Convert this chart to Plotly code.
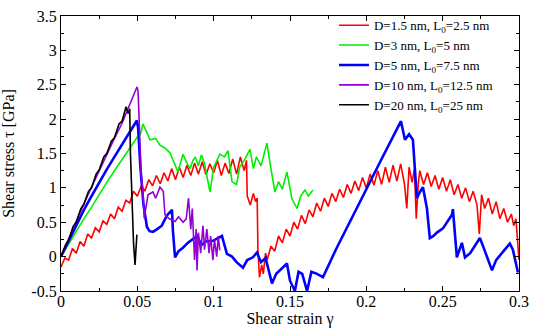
import plotly.graph_objects as go

# ---------------- data ----------------
red_x = [0.0, 0.0025, 0.005, 0.0075, 0.01, 0.0125, 0.015, 0.0175, 0.02, 0.0225,
         0.025, 0.0275, 0.03, 0.0325, 0.035, 0.0375, 0.04, 0.0425, 0.045, 0.0475,
         0.05, 0.0525, 0.055, 0.0575, 0.06, 0.0625, 0.065, 0.0675, 0.07, 0.0725,
         0.075, 0.0775, 0.08, 0.0825, 0.085, 0.0875, 0.09, 0.0925, 0.095, 0.0975,
         0.1, 0.1025, 0.105, 0.1075, 0.11, 0.1125, 0.115, 0.1175, 0.12, 0.1215,
         0.122, 0.124, 0.126, 0.1275, 0.1285, 0.129, 0.13, 0.1315, 0.1325, 0.134,
         0.135, 0.1375, 0.14, 0.1425, 0.145, 0.1475, 0.15, 0.1525, 0.155, 0.1575,
         0.16, 0.1625, 0.165, 0.1675, 0.17, 0.1725, 0.175, 0.1775, 0.18, 0.1825,
         0.185, 0.1875, 0.19, 0.1925, 0.195, 0.1975, 0.2, 0.2025, 0.205, 0.2075,
         0.21, 0.2125, 0.215, 0.2175, 0.22, 0.2225, 0.225, 0.2265, 0.228, 0.23,
         0.2315, 0.2327, 0.234, 0.235, 0.2375, 0.24, 0.2425, 0.245, 0.2475, 0.25,
         0.2525, 0.255, 0.2575, 0.26, 0.2625, 0.265, 0.2675, 0.27, 0.2725, 0.274,
         0.2755, 0.2775, 0.28, 0.2825, 0.285, 0.2875, 0.29, 0.2925, 0.295, 0.2965,
         0.298, 0.299, 0.3]
red_y = [-0.15, -0.02, -0.05, 0.12, 0.05, 0.22, 0.15, 0.33, 0.27, 0.42,
         0.36, 0.52, 0.47, 0.62, 0.55, 0.72, 0.66, 0.82, 0.78, 0.95,
         0.88, 1.02, 0.96, 1.12, 1.03, 1.18, 1.06, 1.22, 1.10, 1.28,
         1.12, 1.30, 1.15, 1.33, 1.18, 1.36, 1.20, 1.38, 1.19, 1.35,
         1.22, 1.40, 1.18, 1.36, 1.21, 1.42, 1.20, 1.45, 1.25, 1.40,
         0.88, 0.75, 0.92, 0.80, 0.85, 0.10, -0.30, -0.12, -0.25, 0.05,
         -0.05, 0.15, 0.08, 0.30, 0.20, 0.40, 0.30, 0.50, 0.40, 0.60,
         0.48, 0.68, 0.58, 0.78, 0.66, 0.85, 0.73, 0.92, 0.80, 0.98,
         0.86, 1.05, 0.92, 1.10, 0.96, 1.15, 1.00, 1.20, 1.04, 1.25,
         1.05, 1.30, 1.08, 1.33, 1.10, 1.35, 1.05, 0.70, 1.30, 1.08,
         1.28, 0.55, 1.05, 1.25, 1.05, 1.22, 1.02, 1.18, 0.98, 1.15,
         0.95, 1.12, 0.90, 1.05, 0.85, 1.00, 0.80, 0.95, 0.75, 0.33,
         0.90, 0.70, 0.85, 0.62, 0.80, 0.55, 0.70, 0.50, 0.62, 0.45,
         0.55, 0.30, -0.05]

green_x = [0.0, 0.005, 0.01, 0.015, 0.02, 0.025, 0.03, 0.035, 0.04, 0.045,
           0.05, 0.052, 0.0537, 0.0583, 0.062, 0.0648, 0.068, 0.0714, 0.0747, 0.0766,
           0.0799, 0.082, 0.0845, 0.0864, 0.088, 0.09, 0.092, 0.094, 0.0976, 0.1,
           0.1041, 0.107, 0.1094, 0.112, 0.115, 0.117, 0.12, 0.1238, 0.126, 0.128,
           0.131, 0.1349, 0.137, 0.1401, 0.1425, 0.145, 0.148, 0.15, 0.1513, 0.1546,
           0.157, 0.1598, 0.162, 0.165]
green_y = [0.0, 0.19, 0.36, 0.55, 0.72, 0.91, 1.08, 1.25, 1.42, 1.58,
           1.74, 1.78, 1.93, 1.70, 1.72, 1.62, 1.58, 1.51, 1.33, 1.23,
           1.49, 1.38, 1.28, 1.40, 1.45, 1.32, 1.48, 1.35, 0.94, 1.30,
           1.49, 1.45, 1.54, 1.09, 1.05, 1.30, 1.40, 1.56, 1.28, 1.45,
           1.32, 1.65, 1.35, 0.94, 1.09, 0.98, 1.23, 1.00, 0.84, 0.70,
           0.88, 0.97, 0.88, 0.97]

blue_x = [0.0, 0.005, 0.01, 0.015, 0.02, 0.025, 0.03, 0.035, 0.04, 0.045,
          0.048, 0.0497, 0.0505, 0.052, 0.054, 0.0563, 0.058, 0.0602, 0.063, 0.066,
          0.0694, 0.0727, 0.0733, 0.0747, 0.077, 0.0799, 0.083, 0.0864, 0.0891, 0.092,
          0.095, 0.0995, 0.103, 0.1054, 0.1087, 0.112, 0.115, 0.1192, 0.122, 0.1257,
          0.1284, 0.131, 0.134, 0.1382, 0.141, 0.1454, 0.148, 0.15, 0.1532, 0.1556,
          0.158, 0.1612, 0.164, 0.1677, 0.1716, 0.18, 0.19, 0.2, 0.21, 0.2227,
          0.2253, 0.228, 0.2305, 0.2318, 0.2331, 0.2351, 0.2371, 0.2397, 0.2416, 0.244,
          0.2462, 0.2502, 0.2561, 0.2567, 0.258, 0.2593, 0.2626, 0.2646, 0.268, 0.2744,
          0.277, 0.2823, 0.285, 0.294, 0.296, 0.2993]
blue_y = [0.0, 0.23, 0.46, 0.68, 0.88, 1.08, 1.27, 1.45, 1.63, 1.81,
          1.91, 1.98, 1.88, 1.30, 0.76, 0.43, 0.37, 0.36, 0.40, 0.45,
          0.60, 0.68, 0.38, -0.01, 0.08, 0.13, 0.20, 0.25, 0.30, 0.17,
          0.22, 0.23, 0.27, 0.30, 0.04, 0.00, -0.08, -0.16, -0.05, -0.01,
          0.06, -0.08, -0.02, -0.39, -0.25, -0.16, -0.10, -0.35, -0.50, -0.22,
          -0.25, -0.50, -0.22, -0.25, -0.30, 0.10, 0.55, 0.98, 1.42, 1.97,
          1.70, 1.78, 1.70, 1.20, 0.85, 0.94, 1.01, 0.70, 0.27, 0.30,
          0.35, 0.41, 0.61, 0.69, 0.30, -0.01, 0.20, -0.01, 0.05, 0.27,
          0.12, -0.20, -0.05, 0.19, 0.10, -0.23]

purple_x = [0.0, 0.005, 0.01, 0.015, 0.02, 0.025, 0.03, 0.035, 0.04, 0.043,
            0.046, 0.0498, 0.0505, 0.0515, 0.0525, 0.0535, 0.0545, 0.057, 0.0602, 0.062,
            0.0648, 0.067, 0.0681, 0.071, 0.0747, 0.077, 0.08, 0.082, 0.0835, 0.085,
            0.086, 0.0875, 0.0885, 0.0891, 0.09, 0.0915, 0.093, 0.094, 0.0955, 0.097,
            0.098, 0.0995, 0.1005, 0.102, 0.103, 0.104]
purple_y = [0.0, 0.26, 0.52, 0.77, 1.01, 1.25, 1.48, 1.72, 1.94, 2.10,
            2.27, 2.47, 2.40, 1.80, 1.20, 0.99, 0.56, 0.90, 0.94, 0.85,
            1.01, 0.95, 0.61, 0.55, 0.51, 0.58, 0.50, 0.55, 0.85, 0.40,
            0.70, -0.05, 0.40, -0.20, 0.35, 0.05, 0.45, 0.10, 0.40, 0.05,
            0.30, -0.05, 0.25, 0.00, 0.30, 0.09]

black_x = [0.0, 0.003, 0.005, 0.008, 0.01, 0.013, 0.015, 0.018, 0.02, 0.023,
           0.025, 0.028, 0.03, 0.033, 0.035, 0.038, 0.04, 0.042, 0.0426, 0.044,
           0.045, 0.0455, 0.0465, 0.0475, 0.0485, 0.0492, 0.0497]
black_y = [0.0, 0.17, 0.24, 0.44, 0.50, 0.70, 0.76, 0.95, 1.00, 1.20,
           1.26, 1.45, 1.50, 1.68, 1.73, 1.93, 1.97, 2.12, 2.18, 2.08,
           2.15, 1.50, 0.80, 0.20, -0.12, 0.10, 0.32]

series_names = ["D=1.5 nm, L<sub>0</sub>=2.5 nm", "D=3 nm, L<sub>0</sub>=5 nm",
                "D=5 nm, L<sub>0</sub>=7.5 nm", "D=10 nm, L<sub>0</sub>=12.5 nm",
                "D=20 nm, L<sub>0</sub>=25 nm"]
series_colors = ["#ff0000", "#00ee00", "#0000ff", "rgb(148,0,211)", "#000000"]
series_widths = [1.6, 1.6, 2.6, 1.6, 1.6]

x_tickvals = [0, 0.05, 0.1, 0.15, 0.2, 0.25, 0.3]
x_ticktext = ["0", "0.05", "0.1", "0.15", "0.2", "0.25", "0.3"]
y_tickvals = [-0.5, 0, 0.5, 1, 1.5, 2, 2.5, 3, 3.5]
y_ticktext = ["-0.5", "0", "0.5", "1", "1.5", "2", "2.5", "3", "3.5"]

# ---------------- figure ----------------
xs = [red_x, green_x, blue_x, purple_x, black_x]
ys = [red_y, green_y, blue_y, purple_y, black_y]

fig = go.Figure()
for x, y, n, c, w in zip(xs, ys, series_names, series_colors, series_widths):
    fig.add_trace(go.Scatter(x=x, y=y, mode="lines", name=n,
                             line=dict(color=c, width=w)))

font_family = "Times New Roman, Liberation Serif, serif"
axis_common = dict(showline=True, linecolor="black", linewidth=1.2,
                   mirror="allticks", ticks="inside", ticklen=5,
                   tickcolor="black", showgrid=False, zeroline=False,
                   automargin=False, ticklabeloverflow="allow",
                   tickfont=dict(family=font_family, size=16, color="black"))

fig.update_layout(
    width=534, height=328,
    margin=dict(l=61, r=15, t=10, b=37),
    paper_bgcolor="white", plot_bgcolor="white",
    font=dict(family=font_family, color="black"),
    showlegend=True,
    legend=dict(x=0.596, y=1.021, xanchor="left", yanchor="top",
                bgcolor="rgba(0,0,0,0)", borderwidth=0,
                font=dict(family=font_family, size=13, color="black"),
                tracegroupgap=0, itemwidth=30),
    xaxis=dict(range=[0, 0.3], tickvals=x_tickvals, ticktext=x_ticktext,
               ticklabelstandoff=-4,
               minor=dict(ticks="inside", ticklen=3, dtick=0.025, tickcolor="black"),
               title=dict(text="Shear strain γ",
                          font=dict(family=font_family, size=16)),
               **axis_common),
    yaxis=dict(range=[-0.5, 3.5], tickvals=y_tickvals, ticktext=y_ticktext,
               minor=dict(ticks="inside", ticklen=3, dtick=0.25, tickcolor="black"),
               title=dict(text="Shear stress τ [GPa]",
                          font=dict(family=font_family, size=16)),
               **axis_common),
)

# remove the browser's default 8px page margin so the figure fills the window
fig.write_html("out.html",
               config={"displayModeBar": False},
               post_script="document.body.style.margin='0';document.body.style.overflow='hidden';")
